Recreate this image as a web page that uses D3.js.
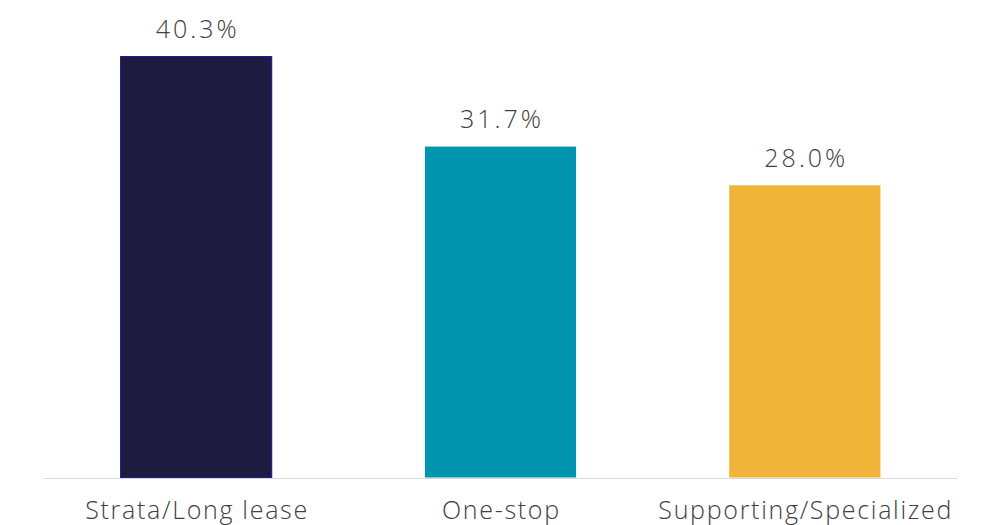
<!DOCTYPE html>
<html>
<head>
<meta charset="utf-8">
<script src="https://cdn.jsdelivr.net/npm/d3@7"></script>
<style>
  body { margin: 0; background: #fff; }
  text { font-family: "Open Sans", sans-serif; font-weight: 300; fill: #404040; }
</style>
</head>
<body>
<svg id="chart"></svg>
<script>
const categories = ["Strata/Long lease", "One-stop", "Supporting/Specialized"];
const values = [40.3, 31.7, 28.0];
const colors = ["#1f1a40", "#0094ae", "#f0b538"];
const strokes = ["#1a1a9e", "none", "none"];

const width = 983;
const height = 525;
const margin = { top: 56, bottom: 47, left: 44, right: 26 };

const svg = d3.select('#chart')
  .attr('width', width)
  .attr('height', height);

const xscale = d3.scaleBand()
  .domain(categories)
  .range([margin.left, width - margin.right])
  .paddingInner(0.5)
  .paddingOuter(0.25);

const yscale = d3.scaleLinear()
  .domain([0, 40.3])
  .range([height - margin.bottom, margin.top]);

const data = categories.map((c, i) => ({ cat: c, value: values[i], color: colors[i], stroke: strokes[i] }));

// baseline
svg.append('line')
  .attr('x1', margin.left)
  .attr('x2', width - margin.right)
  .attr('y1', yscale(0) + 0.5)
  .attr('y2', yscale(0) + 0.5)
  .attr('stroke', '#d9d9d9')
  .attr('stroke-width', 1);

svg.selectAll('rect.bar').data(data).enter().append('rect')
  .attr('class', 'bar')
  .attr('x', (d) => xscale(d.cat) + 0.5)
  .attr('y', (d) => yscale(d.value) + 0.5)
  .attr('width', xscale.bandwidth() - 1)
  .attr('height', (d) => yscale(0) - yscale(d.value) - 1)
  .attr('fill', (d) => d.color)
  .attr('stroke', (d) => d.stroke)
  .attr('stroke-width', 1);

svg.selectAll('text.value').data(data).enter().append('text')
  .attr('class', 'value')
  .attr('x', (d) => xscale(d.cat) + xscale.bandwidth() / 2 + 1.5)
  .attr('y', (d) => yscale(d.value) - 18)
  .attr('text-anchor', 'middle')
  .style('font-size', '25px')
  .style('letter-spacing', '3px')
  .text((d) => d.value.toFixed(1) + '%');

// category axis labels
svg.selectAll('text.cat').data(data).enter().append('text')
  .attr('class', 'cat')
  .attr('x', (d) => xscale(d.cat) + xscale.bandwidth() / 2 + 0.85)
  .attr('y', yscale(0) + 41)
  .attr('text-anchor', 'middle')
  .style('font-size', '25px')
  .style('letter-spacing', '1.7px')
  .text((d) => d.cat);
</script>
</body>
</html>
